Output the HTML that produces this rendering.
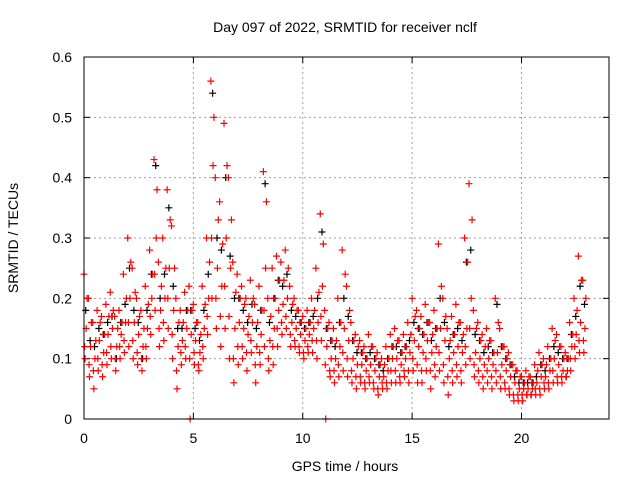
<!DOCTYPE html>
<html><head><meta charset="utf-8"><style>
body{margin:0;background:#fff}
svg text{font-family:"Liberation Sans",sans-serif;font-size:14px;fill:#000}
</style></head><body>
<svg id="chart" width="640" height="480" xmlns="http://www.w3.org/2000/svg">
<text x="345" y="32" text-anchor="middle">Day 097 of 2022, SRMTID for receiver nclf</text>
<text transform="translate(18,238) rotate(-90)" text-anchor="middle">SRMTID / TECUs</text>
<text x="345" y="471" text-anchor="middle">GPS time / hours</text>
<g id="grid"></g>
<g id="ticks"></g>
<g id="black"></g>
<g id="red"></g>
<rect x="84" y="57" width="525" height="362" fill="none" stroke="#000" stroke-width="1"/>
</svg>
<script>
const xTicks=[0,5,10,15,20];
const yTicks=[0,0.1,0.2,0.3,0.4,0.5,0.6];
const yTickLabels=["0","0.1","0.2","0.3","0.4","0.5","0.6"];
const times=[0,0.2,0.4,0.6,0.8,1.0,1.2,1.4,1.6,1.8,2.0,2.2,2.4,2.6,2.8,3.0,3.2,3.4,3.6,3.8,4.0,4.2,4.4,4.6,4.8,5.0,5.2,5.4,5.6,5.8,6.0,6.2,6.4,6.6,6.8,7.0,7.2,7.4,7.6,7.8,8.0,8.2,8.4,8.6,8.8,9.0,9.2,9.4,9.6,9.8,10.0,10.2,10.4,10.6,10.8,11.0,11.2,11.4,11.6,11.8,12.0,12.2,12.4,12.6,12.8,13.0,13.2,13.4,13.6,13.8,14.0,14.2,14.4,14.6,14.8,15.0,15.2,15.4,15.6,15.8,16.0,16.2,16.4,16.6,16.8,17.0,17.2,17.4,17.6,17.8,18.0,18.2,18.4,18.6,18.8,19.0,19.2,19.4,19.6,19.8,20.0,20.2,20.4,20.6,20.8,21.0,21.2,21.4,21.6,21.8,22.0,22.2,22.4,22.6,22.8];
const redHigh=[0.24,0.20,0.16,0.18,0.17,0.19,0.21,0.17,0.18,0.24,0.30,0.25,0.20,0.18,0.22,0.28,0.43,0.26,0.30,0.38,0.32,0.20,0.18,0.21,0.22,0.19,0.16,0.22,0.30,0.56,0.40,0.36,0.49,0.40,0.26,0.24,0.22,0.20,0.23,0.19,0.22,0.41,0.20,0.25,0.27,0.26,0.28,0.22,0.20,0.18,0.17,0.18,0.20,0.25,0.34,0.18,0.16,0.15,0.20,0.28,0.22,0.16,0.14,0.13,0.12,0.14,0.12,0.11,0.10,0.12,0.14,0.15,0.13,0.14,0.16,0.20,0.18,0.17,0.19,0.16,0.18,0.29,0.20,0.15,0.17,0.19,0.16,0.30,0.39,0.18,0.16,0.14,0.15,0.13,0.20,0.15,0.12,0.11,0.09,0.08,0.07,0.08,0.07,0.09,0.11,0.10,0.12,0.15,0.14,0.12,0.11,0.16,0.20,0.27,0.23];
const redUpper=[0.20,0.16,0.13,0.16,0.14,0.17,0.18,0.15,0.16,0.20,0.26,0.21,0.17,0.15,0.19,0.24,0.38,0.22,0.25,0.33,0.25,0.16,0.16,0.18,0.18,0.16,0.14,0.19,0.26,0.50,0.33,0.29,0.42,0.33,0.21,0.20,0.19,0.17,0.20,0.16,0.18,0.36,0.17,0.20,0.23,0.23,0.25,0.19,0.18,0.16,0.15,0.16,0.18,0.21,0.29,0.15,0.13,0.13,0.16,0.24,0.18,0.13,0.12,0.11,0.10,0.12,0.10,0.09,0.09,0.10,0.12,0.13,0.11,0.12,0.14,0.17,0.15,0.14,0.16,0.14,0.15,0.22,0.17,0.13,0.14,0.16,0.14,0.26,0.33,0.15,0.13,0.12,0.13,0.11,0.16,0.12,0.10,0.09,0.08,0.07,0.06,0.07,0.06,0.08,0.09,0.09,0.10,0.13,0.12,0.10,0.10,0.14,0.18,0.23,0.20];
const redMid=[0.15,0.12,0.10,0.13,0.11,0.14,0.15,0.12,0.14,0.16,0.20,0.16,0.14,0.12,0.15,0.20,0.30,0.18,0.20,0.25,0.18,0.12,0.13,0.15,0.14,0.13,0.11,0.15,0.20,0.42,0.25,0.22,0.30,0.25,0.15,0.16,0.15,0.14,0.16,0.12,0.14,0.25,0.13,0.15,0.18,0.19,0.20,0.16,0.15,0.14,0.13,0.14,0.15,0.16,0.22,0.12,0.10,0.10,0.12,0.15,0.13,0.10,0.09,0.09,0.08,0.09,0.08,0.07,0.07,0.08,0.10,0.10,0.09,0.10,0.11,0.13,0.12,0.11,0.13,0.11,0.12,0.15,0.13,0.10,0.11,0.12,0.11,0.15,0.20,0.11,0.10,0.09,0.10,0.09,0.11,0.09,0.08,0.07,0.06,0.05,0.05,0.05,0.05,0.06,0.07,0.07,0.08,0.10,0.09,0.08,0.08,0.12,0.14,0.16,0.15];
const redLower=[0.12,0.09,0.08,0.10,0.09,0.11,0.12,0.10,0.12,0.13,0.16,0.13,0.11,0.10,0.12,0.17,0.24,0.15,0.16,0.20,0.14,0.08,0.11,0.12,0.10,0.11,0.09,0.12,0.17,0.30,0.20,0.17,0.22,0.17,0.10,0.12,0.12,0.11,0.13,0.09,0.11,0.18,0.10,0.12,0.15,0.16,0.17,0.14,0.13,0.12,0.11,0.12,0.13,0.13,0.17,0.09,0.08,0.08,0.09,0.11,0.10,0.08,0.07,0.07,0.06,0.07,0.06,0.05,0.06,0.06,0.08,0.08,0.07,0.08,0.08,0.10,0.09,0.08,0.10,0.08,0.09,0.11,0.09,0.07,0.08,0.09,0.08,0.12,0.15,0.09,0.08,0.07,0.08,0.07,0.08,0.07,0.06,0.05,0.04,0.04,0.04,0.04,0.04,0.05,0.05,0.06,0.06,0.08,0.07,0.07,0.07,0.10,0.12,0.13,0.13];
const redLow=[0.10,0.07,0.05,0.08,0.07,0.09,0.10,0.08,0.10,0.11,0.12,0.10,0.09,0.08,0.10,0.14,0.18,0.12,0.13,0.15,0.10,0.05,0.09,0.10,0.00,0.09,0.08,0.10,0.14,0.20,0.15,0.12,0.15,0.10,0.06,0.09,0.10,0.08,0.11,0.06,0.09,0.12,0.08,0.09,0.12,0.14,0.15,0.12,0.12,0.11,0.10,0.11,0.11,0.10,0.13,0.00,0.07,0.06,0.07,0.08,0.07,0.06,0.05,0.06,0.05,0.06,0.05,0.04,0.05,0.05,0.06,0.06,0.06,0.07,0.06,0.08,0.06,0.06,0.08,0.05,0.07,0.08,0.06,0.04,0.06,0.07,0.06,0.09,0.10,0.07,0.06,0.05,0.06,0.05,0.06,0.05,0.05,0.04,0.03,0.03,0.03,0.04,0.04,0.04,0.04,0.05,0.05,0.06,0.06,0.06,0.07,0.08,0.10,0.11,0.11];
const blackVals=[0.18,0.13,0.12,0.15,0.14,0.16,0.17,0.10,0.16,0.19,0.25,0.18,0.16,0.10,0.18,0.24,0.42,0.20,0.24,0.35,0.22,0.15,0.15,0.18,0.18,0.15,0.13,0.18,0.24,0.54,0.30,0.28,0.40,0.27,0.20,0.20,0.18,0.16,0.19,0.15,0.18,0.39,0.16,0.20,0.23,0.22,0.24,0.18,0.17,0.16,0.15,0.16,0.17,0.20,0.31,0.15,0.13,0.12,0.16,0.20,0.17,0.13,0.11,0.11,0.10,0.11,0.10,0.09,0.08,0.10,0.12,0.12,0.11,0.12,0.13,0.16,0.15,0.14,0.16,0.13,0.15,0.20,0.16,0.12,0.14,0.15,0.13,0.26,0.28,0.14,0.13,0.11,0.12,0.11,0.19,0.12,0.10,0.09,0.07,0.06,0.06,0.06,0.06,0.07,0.09,0.08,0.10,0.12,0.11,0.10,0.10,0.14,0.17,0.22,0.19];
const NS="http://www.w3.org/2000/svg";
const X0=84,X1=609,Y0=419,Y1=57;
function xs(v){return X0+(v/24)*(X1-X0);}
function ys(v){return Y0-(v/0.6)*(Y0-Y1);}
const grid=document.getElementById('grid'),ticks=document.getElementById('ticks');
function mk(tag,attrs,parent){const e=document.createElementNS(NS,tag);for(const k in attrs)e.setAttribute(k,attrs[k]);parent.appendChild(e);return e;}
yTicks.forEach((v,i)=>{
  const y=ys(v);
  if(i>0&&i<yTicks.length-1){const g=mk('line',{x1:X0,x2:X1,y1:y,y2:y,stroke:'#a0a0a0','stroke-dasharray':'2,3'},grid);
  
  }
  mk('line',{x1:X0,x2:X0+6,y1:y,y2:y,stroke:'#000'},ticks);
  mk('line',{x1:X1,x2:X1-6,y1:y,y2:y,stroke:'#000'},ticks);
  const t=mk('text',{x:X0-12,y:y+5,'text-anchor':'end'},ticks);t.textContent=yTickLabels[i];
  
  
});
xTicks.forEach(v=>{
  const x=xs(v);
  if(v>0){const g=mk('line',{x1:x,x2:x,y1:Y0,y2:Y1,stroke:'#a0a0a0','stroke-dasharray':'2,3'},grid);
  
  }
  mk('line',{x1:x,x2:x,y1:Y0,y2:Y0-6,stroke:'#000'},ticks);
  mk('line',{x1:x,x2:x,y1:Y1,y2:Y1+6,stroke:'#000'},ticks);
  const t=mk('text',{x:x,y:Y0+24,'text-anchor':'middle'},ticks);t.textContent=String(v);
  
  
});
function plus(parent,t,v,color,name){
  const x=xs(t),y=ys(v);
  const p=mk('path',{d:`M${x-3.5},${y}H${x+3.5}M${x},${y-3.5}V${y+3.5}`,stroke:color,'stroke-width':1.2,fill:'none'},parent);
  
  
}
const bl=document.getElementById('black'),rd=document.getElementById('red');
times.forEach((t,i)=>plus(bl,t+0.08,blackVals[i],'#000','black-point'));
times.forEach((t,i)=>{
  plus(rd,t,redHigh[i],'#f00','red-point');
  plus(rd,t+0.14,redUpper[i],'#f00','red-point');
  plus(rd,t+0.1,redMid[i],'#f00','red-point');
  plus(rd,t+0.03,redLower[i],'#f00','red-point');
  plus(rd,t+0.05,redLow[i],'#f00','red-point');
});
</script>
</body></html>
